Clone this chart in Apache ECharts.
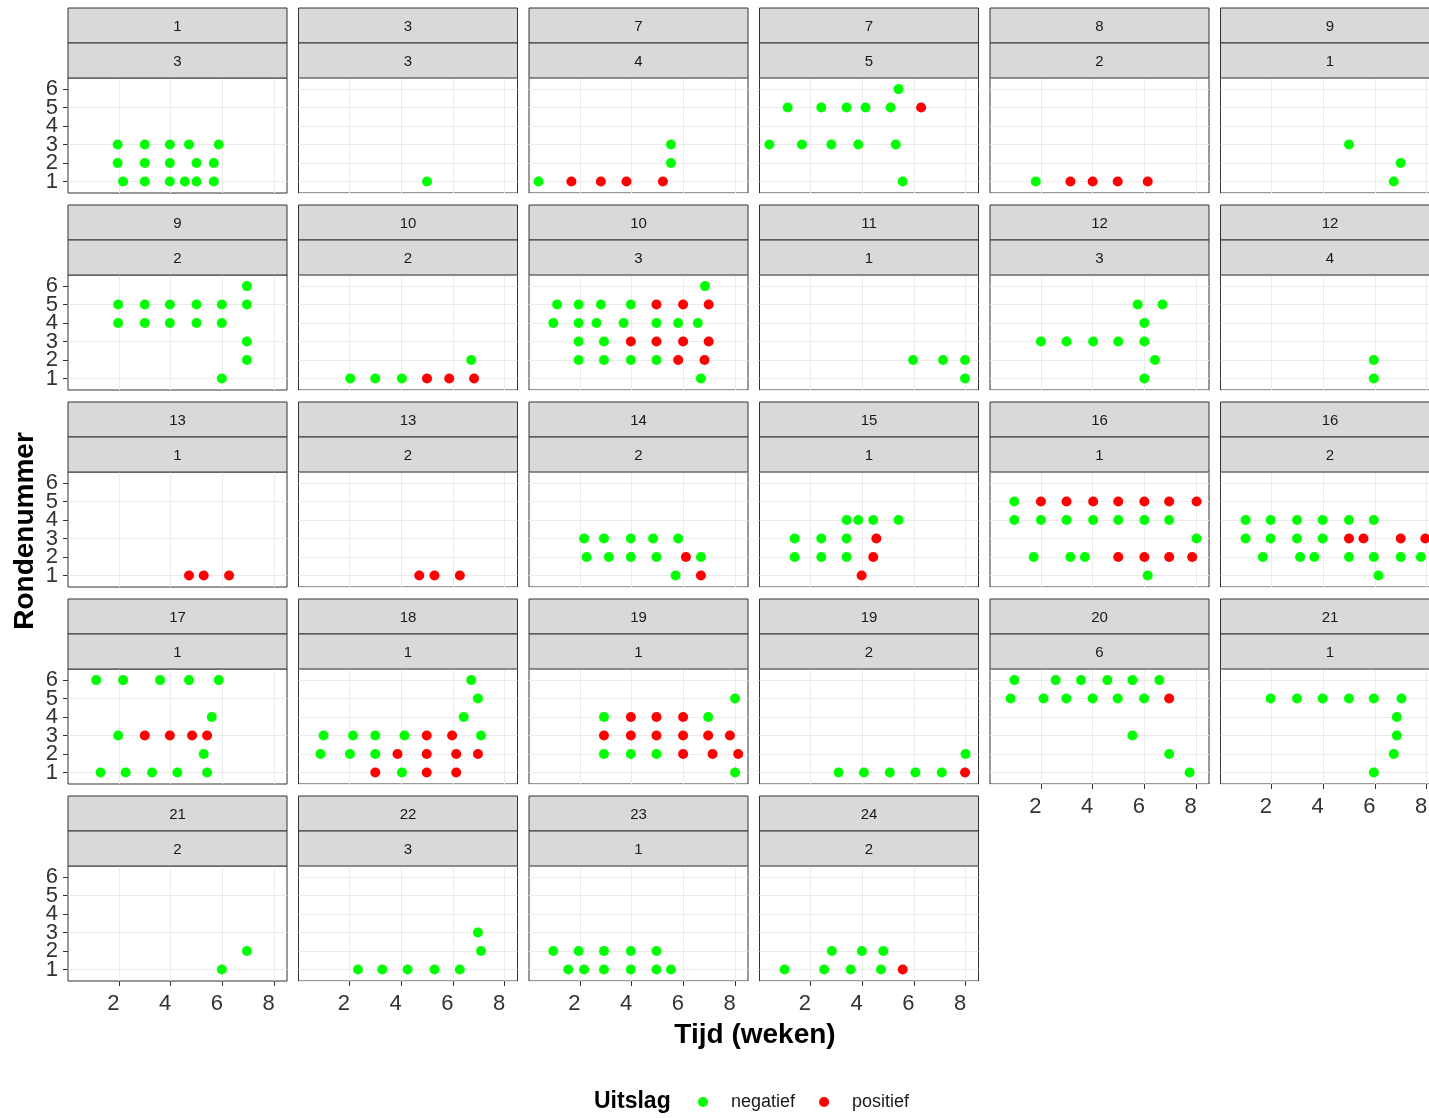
<!DOCTYPE html>
<html><head><meta charset="utf-8">
<script src="https://cdn.jsdelivr.net/npm/echarts@6/dist/echarts.min.js"></script>
<style>html,body{margin:0;padding:0;overflow:hidden;background:#fff}#c{width:1460px;height:1118px}</style>
</head><body><div id="c"></div>
<script>
// strip labels (two facet variables)
const stripTop = ['1','3','7','7','8','9','9','10','10','11','12','12','13','13','14','15','16','16','17','18','19','19','20','21','21','22','23','24'];
const stripBottom = ['3','3','4','5','2','1','2','2','3','1','3','4','1','2','2','1','1','2','1','1','1','2','6','1','2','3','1','2'];
const xTickLabels = [2,4,6,8];
const xGridVals = [1,2,3,4,5,6,7,8];
const yTickLabels = [1,2,3,4,5,6];
const yTickLabelsOdd = [1,3,5];
const yTickLabelsEven = [2,4,6];
const seriesNames = ['negatief','positief'];

// points per panel: [Tijd (weken), Rondenummer]
const neg01 = [[1.95,3],[3.0,3],[3.97,3],[4.71,3],[5.86,3],[1.95,2],[3.0,2],[3.97,2],[5.0,2],[5.67,2],[2.16,1],[3.0,1],[3.97,1],[4.55,1],[5.0,1],[5.67,1]];
const pos01 = [];
const neg02 = [[5.0,1]];
const pos02 = [];
const neg03 = [[5.52,3],[5.52,2],[0.40,1]];
const pos03 = [[1.67,1],[2.81,1],[3.80,1],[5.21,1]];
const neg04 = [[5.41,6],[1.12,5],[2.42,5],[3.40,5],[4.13,5],[5.10,5],[0.41,3],[1.67,3],[2.81,3],[3.85,3],[5.30,3],[5.57,1]];
const pos04 = [[6.28,5]];
const neg05 = [[1.80,1]];
const pos05 = [[3.14,1],[4.0,1],[4.97,1],[6.13,1]];
const neg06 = [[5.0,3],[7.0,2],[6.73,1]];
const pos06 = [];
const neg07 = [[6.95,6],[1.97,5],[3.0,5],[3.97,5],[5.0,5],[5.98,5],[6.95,5],[1.97,4],[3.0,4],[3.97,4],[5.0,4],[5.98,4],[6.95,3],[6.95,2],[5.98,1]];
const pos07 = [];
const neg08 = [[6.71,2],[2.03,1],[3.0,1],[4.03,1]];
const pos08 = [[5.0,1],[5.86,1],[6.82,1]];
const neg09 = [[6.84,6],[1.12,5],[1.95,5],[2.81,5],[3.97,5],[0.97,4],[1.95,4],[2.64,4],[3.69,4],[4.96,4],[5.80,4],[6.56,4],[1.95,3],[2.93,3],[1.95,2],[2.93,2],[3.97,2],[4.96,2],[6.68,1]];
const pos09 = [[4.96,5],[5.99,5],[6.98,5],[3.97,3],[4.96,3],[5.99,3],[6.98,3],[5.80,2],[6.82,2]];
const neg10 = [[5.97,2],[7.13,2],[7.98,2],[7.98,1]];
const pos10 = [];
const neg11 = [[5.74,5],[6.70,5],[6.0,4],[2.0,3],[2.99,3],[4.02,3],[4.99,3],[6.0,3],[6.41,2],[6.0,1]];
const pos11 = [];
const neg12 = [[5.96,2],[5.96,1]];
const pos12 = [];
const neg13 = [];
const pos13 = [[4.71,1],[5.28,1],[6.26,1]];
const neg14 = [];
const pos14 = [[4.70,1],[5.29,1],[6.27,1]];
const neg15 = [[2.16,3],[2.93,3],[3.97,3],[4.83,3],[5.80,3],[2.26,2],[3.12,2],[3.97,2],[4.96,2],[6.68,2],[5.70,1]];
const pos15 = [[6.10,2],[6.68,1]];
const neg16 = [[3.40,4],[3.85,4],[4.43,4],[5.41,4],[1.39,3],[2.42,3],[3.40,3],[1.39,2],[2.42,2],[3.40,2]];
const pos16 = [[4.55,3],[4.43,2],[3.98,1]];
const neg17 = [[0.97,5],[0.97,4],[2.0,4],[2.99,4],[4.02,4],[4.99,4],[6.0,4],[6.96,4],[8.02,3],[1.72,2],[3.14,2],[3.70,2],[6.13,1]];
const pos17 = [[2.0,5],[2.99,5],[4.02,5],[4.99,5],[6.0,5],[6.96,5],[8.02,5],[4.99,2],[6.0,2],[6.96,2],[7.85,2]];
const neg18 = [[1.0,4],[1.97,4],[2.99,4],[3.98,4],[5.0,4],[5.96,4],[1.0,3],[1.97,3],[2.99,3],[3.98,3],[1.67,2],[3.11,2],[3.66,2],[5.0,2],[5.96,2],[7.0,2],[7.78,2],[6.14,1]];
const pos18 = [[5.0,3],[5.56,3],[7.0,3],[7.95,3]];
const neg19 = [[1.12,6],[2.16,6],[3.59,6],[4.71,6],[5.86,6],[5.59,4],[1.97,3],[5.28,2],[1.29,1],[2.26,1],[3.28,1],[4.26,1],[5.41,1]];
const pos19 = [[3.0,3],[3.97,3],[4.83,3],[5.41,3]];
const neg20 = [[6.71,6],[6.97,5],[6.42,4],[1.0,3],[2.14,3],[3.0,3],[4.13,3],[7.09,3],[0.88,2],[2.02,2],[3.0,2],[4.03,1]];
const pos20 = [[4.99,3],[5.97,3],[3.86,2],[4.99,2],[6.13,2],[6.97,2],[3.0,1],[4.99,1],[6.13,1]];
const neg21 = [[8.0,5],[2.93,4],[6.96,4],[2.93,2],[3.97,2],[4.96,2],[8.0,1]];
const pos21 = [[3.97,4],[4.96,4],[5.99,4],[2.93,3],[3.97,3],[4.96,3],[5.99,3],[6.96,3],[7.80,3],[5.99,2],[7.13,2],[8.12,2]];
const neg22 = [[8.0,2],[3.09,1],[4.07,1],[5.07,1],[6.06,1],[7.08,1]];
const pos22 = [[7.98,1]];
const neg23 = [[0.97,6],[2.57,6],[3.55,6],[4.57,6],[5.54,6],[6.58,6],[0.83,5],[2.10,5],[2.98,5],[4.0,5],[4.97,5],[5.99,5],[5.54,3],[6.96,2],[7.75,1]];
const pos23 = [[6.96,5]];
const neg24 = [[1.97,5],[2.99,5],[3.98,5],[5.0,5],[5.96,5],[7.03,5],[6.85,4],[6.85,3],[6.73,2],[5.96,1]];
const pos24 = [];
const neg25 = [[6.95,2],[5.98,1]];
const pos25 = [];
const neg26 = [[6.97,3],[7.09,2],[2.33,1],[3.27,1],[4.25,1],[5.29,1],[6.27,1]];
const pos26 = [];
const neg27 = [[0.97,2],[1.95,2],[2.93,2],[3.97,2],[4.96,2],[1.55,1],[2.16,1],[2.93,1],[3.97,1],[4.96,1],[5.52,1]];
const pos27 = [];
const neg28 = [[2.83,2],[3.99,2],[4.82,2],[1.0,1],[2.53,1],[3.56,1],[4.73,1]];
const pos28 = [[5.57,1]];

const negAll = [neg01,neg02,neg03,neg04,neg05,neg06,neg07,neg08,neg09,neg10,neg11,neg12,neg13,neg14,neg15,neg16,neg17,neg18,neg19,neg20,neg21,neg22,neg23,neg24,neg25,neg26,neg27,neg28];
const posAll = [pos01,pos02,pos03,pos04,pos05,pos06,pos07,pos08,pos09,pos10,pos11,pos12,pos13,pos14,pos15,pos16,pos17,pos18,pos19,pos20,pos21,pos22,pos23,pos24,pos25,pos26,pos27,pos28];

// layout
const colLeft = [68, 298.5, 529, 759.5, 990, 1220.5];
const rowTop = [78, 275, 472, 669, 866];
const PW = 219, PH = 115, SH = 35;
const FONT = "'Liberation Sans', Arial, sans-serif";
const nPanels = stripTop.length;
const Y_MIN = 0.38, Y_MAX = 6.6;

function labelledY(gridIndex, values) {
  return {
    gridIndex: gridIndex, type: 'value', min: Y_MIN, max: Y_MAX, position: 'left',
    axisLine: {show: false}, splitLine: {show: false},
    axisTick: {show: true, customValues: values, length: 5, lineStyle: {color: '#333333', width: 1}},
    axisLabel: {show: true, customValues: values, showMinLabel: true, showMaxLabel: true, fontSize: 22, color: '#333333', margin: 10, fontFamily: FONT}
  };
}

const grids = [], xAxes = [], yAxes = [], extraY = [], series = [], graphics = [];
for (let i = 0; i < nPanels; i++) {
  const r = Math.floor(i / 6), c = i % 6;
  const L = colLeft[c], T = rowTop[r];
  const isBottom = (i + 6 >= nPanels);
  const isLeft = (c === 0);
  grids.push({left: L, top: T, width: PW, height: PH, show: true, borderColor: '#333333', borderWidth: 1, backgroundColor: '#ffffff', containLabel: false});
  xAxes.push({
    gridIndex: i, type: 'value', min: 0.03, max: 8.5,
    axisLine: {show: false},
    splitLine: {show: true, customValues: xGridVals, lineStyle: {color: '#EBEBEB', width: 1}},
    axisTick: {show: isBottom, customValues: xTickLabels, length: 5, lineStyle: {color: '#333333', width: 1}},
    axisLabel: {show: isBottom, customValues: xTickLabels, showMinLabel: true, showMaxLabel: true, fontSize: 22, color: '#333333', margin: 12, padding: [0, 11, 0, 0], fontFamily: FONT}
  });
  if (isLeft) {
    const base = labelledY(i, yTickLabelsOdd);
    base.splitLine = {show: true, customValues: yTickLabels, lineStyle: {color: '#EBEBEB', width: 1}};
    yAxes.push(base);
    extraY.push(labelledY(i, yTickLabelsEven));
  } else {
    yAxes.push({
      gridIndex: i, type: 'value', min: Y_MIN, max: Y_MAX,
      axisLine: {show: false},
      splitLine: {show: true, customValues: yTickLabels, lineStyle: {color: '#EBEBEB', width: 1}},
      axisTick: {show: false}, axisLabel: {show: false}
    });
  }
  series.push({type: 'scatter', name: seriesNames[0], xAxisIndex: i, yAxisIndex: i, data: negAll[i], symbolSize: 10, itemStyle: {color: '#00FF00', opacity: 1}, z: 3});
  series.push({type: 'scatter', name: seriesNames[1], xAxisIndex: i, yAxisIndex: i, data: posAll[i], symbolSize: 10, itemStyle: {color: '#FF0000', opacity: 1}, z: 3});
  // strips
  [stripTop[i], stripBottom[i]].forEach((lab, k) => {
    const y0 = T - 2 * SH + k * SH;
    graphics.push({type: 'rect', shape: {x: L, y: y0, width: PW, height: SH}, style: {fill: '#D9D9D9', stroke: '#333333', lineWidth: 1}, z: 10});
    graphics.push({type: 'text', x: L + PW / 2, y: y0 + SH / 2 + 1.5, style: {text: lab, fill: '#1A1A1A', font: "15px 'Liberation Sans', Arial, sans-serif", textAlign: 'center', textVerticalAlign: 'middle'}, z: 11});
  });
}
graphics.push({type: 'text', x: 755, y: 1035, style: {text: 'Tijd (weken)', fill: '#000', font: "bold 28px 'Liberation Sans', Arial, sans-serif", textAlign: 'center', textVerticalAlign: 'middle'}});
graphics.push({type: 'text', x: 25, y: 531, rotation: Math.PI / 2, style: {text: 'Rondenummer', fill: '#000', font: "bold 28px 'Liberation Sans', Arial, sans-serif", textAlign: 'center', textVerticalAlign: 'middle'}});
graphics.push({type: 'text', x: 594, y: 1102, style: {text: 'Uitslag', fill: '#000', font: "bold 23px 'Liberation Sans', Arial, sans-serif", textAlign: 'left', textVerticalAlign: 'middle'}});

const chart = echarts.init(document.getElementById('c'), null, {renderer: 'canvas'});
chart.setOption({
  animation: false,
  backgroundColor: '#ffffff',
  grid: grids, xAxis: xAxes, yAxis: yAxes.concat(extraY), series: series,
  legend: {data: seriesNames, left: 693, top: 1088, itemWidth: 46, itemHeight: 10, itemGap: 24, icon: 'circle',
    textStyle: {fontSize: 18, color: '#1A1A1A', fontFamily: FONT}, selectedMode: false},
  graphic: graphics
});
</script></body></html>
